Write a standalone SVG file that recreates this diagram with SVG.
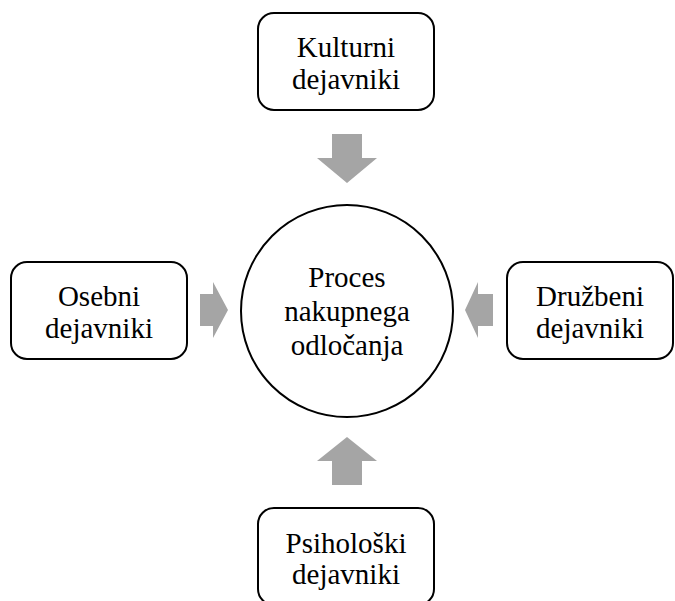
<svg xmlns="http://www.w3.org/2000/svg" width="675" height="601" viewBox="0 0 675 601">
<style>
.box{fill:#fff;stroke:#000;stroke-width:2}
.arrow{fill:#A5A5A5;stroke:none}
text{font-family:"Liberation Serif","Times New Roman",serif;font-size:29px;fill:#000;text-anchor:middle}
</style>
<rect width="675" height="601" fill="#fff"/>
<g id="connectors">
<polygon class="arrow" points="332,134 362,134 362,158 377,158 347,183 317,158 332,158"/>
<polygon class="arrow" points="332,485 362,485 362,461 377,461 347,437 317,461 332,461"/>
<polygon class="arrow" points="200,294 213,294 213,282 228,310 213,338 213,326 200,326"/>
<polygon class="arrow" points="493,294 478,294 478,282 465,310 478,338 478,326 493,326"/>
</g>
<g id="center">
<circle class="box" cx="347" cy="311" r="106"/>
<text x="347" y="287">Proces</text>
<text x="347" y="321">nakupnega</text>
<text x="347" y="355">odločanja</text>
</g>
<g id="kulturni">
<rect class="box" x="258" y="13" width="176" height="97" rx="16"/>
<text x="346" y="57">Kulturni</text>
<text x="346" y="89">dejavniki</text>
</g>
<g id="osebni">
<rect class="box" x="11" y="262" width="176" height="97" rx="16"/>
<text x="99" y="306">Osebni</text>
<text x="99" y="338">dejavniki</text>
</g>
<g id="druzbeni">
<rect class="box" x="507" y="262" width="166" height="97" rx="16"/>
<text x="590" y="306">Družbeni</text>
<text x="590" y="338">dejavniki</text>
</g>
<g id="psiholoski">
<rect class="box" x="258" y="508" width="176" height="97" rx="16"/>
<text x="346" y="553">Psihološki</text>
<text x="346" y="584">dejavniki</text>
</g>
</svg>
